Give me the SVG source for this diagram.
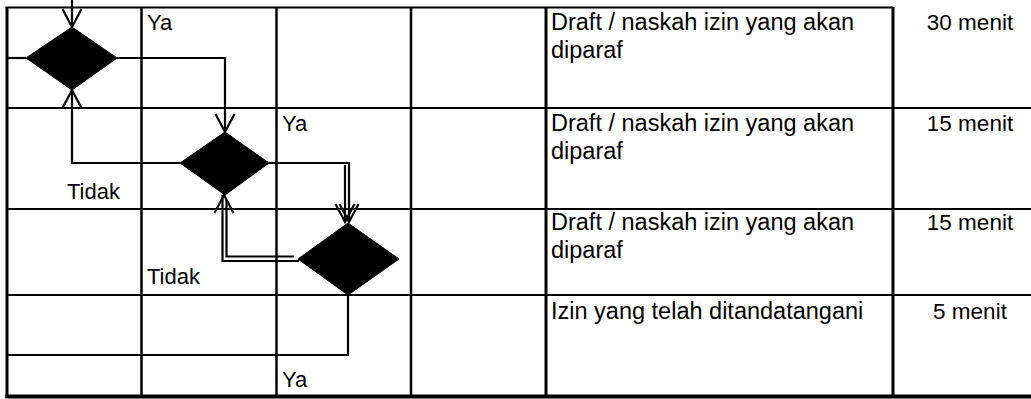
<svg xmlns="http://www.w3.org/2000/svg" width="1031" height="399" viewBox="0 0 1031 399">
<style>
.t{font-family:"Liberation Sans",Arial,sans-serif;font-size:22px;fill:#000}
.d{font-size:23.5px}
.m{font-size:22.5px;text-anchor:middle}
.g{stroke:#000;fill:none}
.dia{fill:#000;stroke:#000;stroke-width:1}
.ln{stroke:#000;stroke-width:2.2;fill:none}
.ah{stroke:#000;stroke-width:2.2;fill:none}
</style>
<rect width="1031" height="399" fill="#fff"/>
<g id="table" class="g">
<line x1="7" y1="7" x2="7" y2="398" stroke-width="3"/>
<line x1="141.5" y1="7" x2="141.5" y2="398" stroke-width="2.5"/>
<line x1="276.5" y1="7" x2="276.5" y2="398" stroke-width="2.5"/>
<line x1="411" y1="7" x2="411" y2="398" stroke-width="2.5"/>
<line x1="546" y1="7" x2="546" y2="398" stroke-width="3"/>
<line x1="893" y1="7" x2="893" y2="398" stroke-width="3"/>
<line x1="5.5" y1="7.5" x2="893" y2="7.5" stroke-width="2"/>
<line x1="7" y1="108" x2="1031" y2="108" stroke-width="1.8"/>
<line x1="7" y1="209" x2="1031" y2="209" stroke-width="1.8"/>
<line x1="7" y1="295" x2="1031" y2="295" stroke-width="1.8"/>
<line x1="5.5" y1="396.5" x2="1031" y2="396.5" stroke-width="4"/>
</g>
<g id="connectors">
<path class="ln" d="M72 0V27"/>
<path class="ah" d="M62.5 9L72 27L81.5 9"/>
<path class="ln" d="M7 58H26"/>
<path class="ln" d="M117 58H225V132"/>
<path class="ah" d="M215.5 114L225 132L234.5 114"/>
<path class="ln" d="M180 163H72V90"/>
<path class="ah" d="M62.5 108L72 90L81.5 108"/>
<path class="ln" d="M269 163H349V222"/>
<path class="ln" d="M345 165V222"/>
<path class="ah" d="M335.5 204L345 222L354.5 204"/>
<path class="ah" d="M339.5 204L349 222L358.5 204"/>
<path class="ln" d="M299 261H222.5V195"/>
<path class="ln" d="M294 256.5H226.5V200"/>
<path class="ah" d="M214.5 213L224 195L233.5 213"/>
<path class="ln" d="M348 295V355H7"/>
</g>
<g id="d1"><polygon class="dia" points="72,27 117,58 72,90 26,58"/></g>
<g id="d2"><polygon class="dia" points="225,132 269,163 225,195 180,163"/></g>
<g id="d3"><polygon class="dia" points="348,223 399,259 348,295 298,259"/></g>
<g id="labels">
<text class="t" x="147" y="30">Ya</text>
<text class="t" x="282" y="131">Ya</text>
<text class="t" x="67" y="199">Tidak</text>
<text class="t" x="147" y="284">Tidak</text>
<text class="t" x="282" y="387">Ya</text>
</g>
<g id="row1">
<text class="t d" x="551" y="30">Draft / naskah izin yang akan</text>
<text class="t d" x="551" y="58">diparaf</text>
<text class="t m" x="970" y="30">30 menit</text>
</g>
<g id="row2">
<text class="t d" x="551" y="131">Draft / naskah izin yang akan</text>
<text class="t d" x="551" y="159">diparaf</text>
<text class="t m" x="970" y="131">15 menit</text>
</g>
<g id="row3">
<text class="t d" x="551" y="230">Draft / naskah izin yang akan</text>
<text class="t d" x="551" y="258">diparaf</text>
<text class="t m" x="970" y="230">15 menit</text>
</g>
<g id="row4">
<text class="t d" x="551" y="319">Izin yang telah ditandatangani</text>
<text class="t m" x="970" y="319">5 menit</text>
</g>
</svg>
